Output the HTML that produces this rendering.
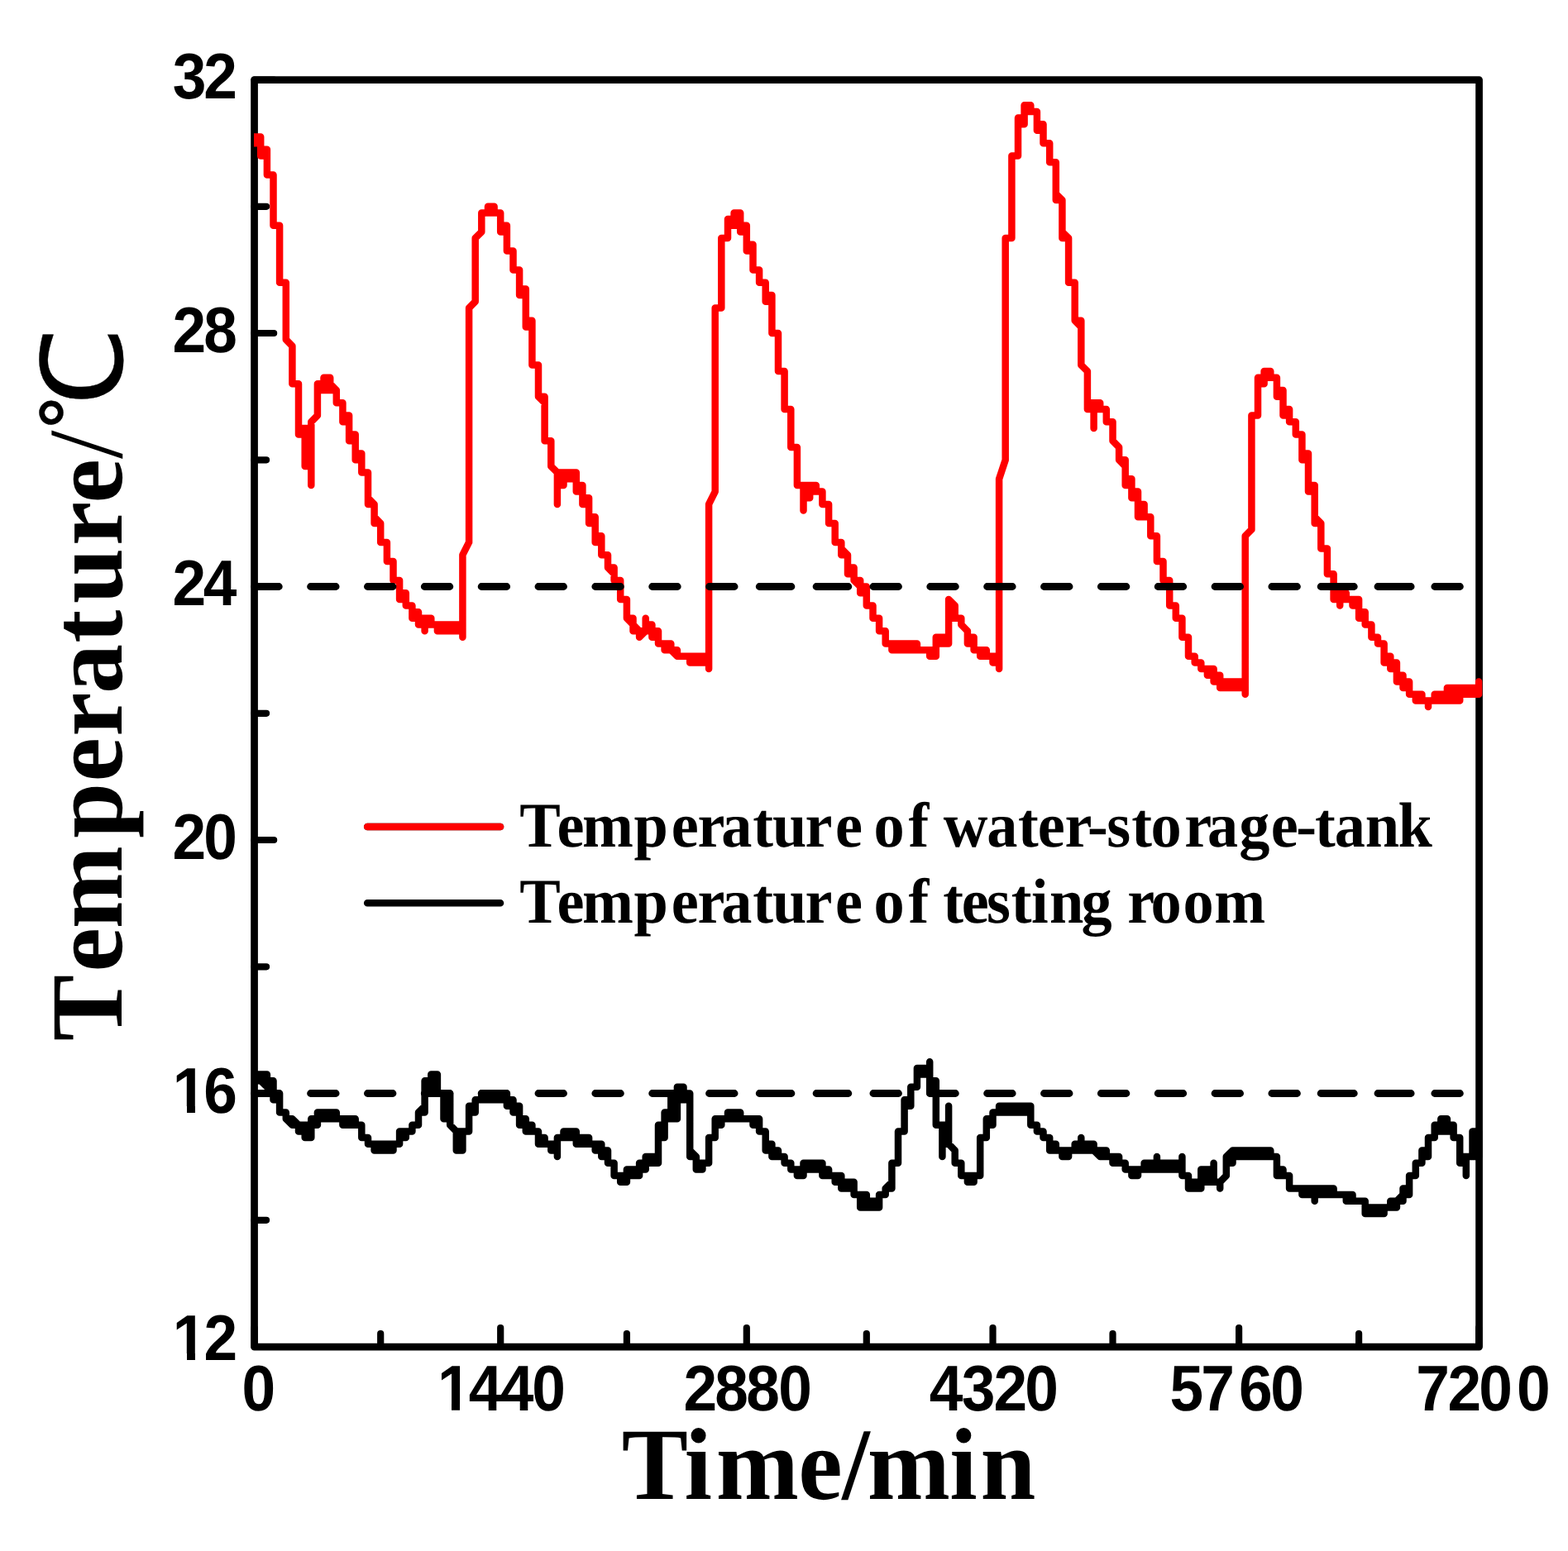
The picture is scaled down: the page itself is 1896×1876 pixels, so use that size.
<!DOCTYPE html>
<html lang="en"><head><meta charset="utf-8"><title>Temperature of water-storage-tank and testing room</title>
<style>html,body{margin:0;padding:0;background:#fff;}body{width:1896px;height:1876px;overflow:hidden;}svg{display:block;}text{text-rendering:geometricPrecision;}.tk{font-family:"Liberation Sans",sans-serif;font-weight:bold;font-size:78px;fill:#000;}.ser{font-family:"Liberation Serif",serif;font-weight:bold;fill:#000;}.deg{font-family:"WenQuanYi Zen Hei","DejaVu Serif","Noto Serif CJK SC",serif;font-weight:normal;fill:#000;}</style></head><body>
<svg width="1896" height="1876" viewBox="0 0 1896 1876">
<defs><clipPath id="plot"><rect x="307" y="92.2" width="1485.8" height="1541.2"/></clipPath>
<clipPath id="c4"><rect x="212.9" y="-70" width="700" height="62"/><rect x="241.2" y="-9" width="10.7" height="9"/><rect x="265.4" y="-9" width="700" height="30"/></clipPath>
<clipPath id="c5"><rect x="212.9" y="-70" width="700" height="62"/><rect x="241.2" y="-9" width="10.7" height="9"/><rect x="265.4" y="-9" width="700" height="30"/></clipPath>
<clipPath id="c7"><rect x="554.5" y="-70" width="700" height="62"/><rect x="582.7" y="-9" width="10.7" height="9"/><rect x="606.9" y="-9" width="700" height="30"/></clipPath>
</defs>
<rect x="0" y="0" width="1896" height="1876" fill="#fff"/>
<rect x="307.55" y="96.55" width="1481" height="1532.5" fill="none" stroke="#000" stroke-width="8.7" stroke-linejoin="round"/>
<path d="M307.55,1629h23.6M307.55,1475.8h14.5M307.55,1322.5h23.6M307.55,1169.3h14.5M307.55,1016h23.6M307.55,862.8h14.5M307.55,709.5h23.6M307.55,556.3h14.5M307.55,403h23.6M307.55,249.8h14.5M307.55,96.5h23.6M307.6,1629.0v-23.0M460.2,1629.0v-16.0M605.2,1629.0v-23.0M757.9,1629.0v-16.0M902.8,1629.0v-23.0M1047.8,1629.0v-16.0M1200.5,1629.0v-23.0M1345.5,1629.0v-16.0M1498.1,1629.0v-23.0M1643.1,1629.0v-16.0M1788.1,1629.0v-23.0" fill="none" stroke="#000" stroke-width="8.2" stroke-linecap="round"/>
<g clip-path="url(#plot)" fill="none" stroke-linejoin="round" stroke-linecap="round">
<path d="M307.6,1299.5V1307.2M307.6,1299.5H315.2M307.6,1307.2H315.2M315.2,1299.5V1307.2M315.2,1299.5H322.9M315.2,1307.2H322.9M322.9,1299.5V1314.8M322.9,1307.2H330.5M322.9,1314.8H330.5M330.5,1307.2V1330.2M330.5,1322.5H338.1M330.5,1330.2H338.1M338.1,1322.5V1345.5M338.1,1345.5H345.8M345.8,1345.5V1353.2M345.8,1353.2H353.4M353.4,1353.2V1360.8M353.4,1360.8H361M361,1360.8V1368.5M361,1360.8H368.7M361,1368.5H368.7M368.7,1360.8V1376.1M368.7,1360.8H376.3M368.7,1376.1H376.3M376.3,1353.2V1376.1M376.3,1353.2H383.9M376.3,1360.8H383.9M383.9,1345.5V1360.8M383.9,1345.5H391.5M383.9,1353.2H391.5M391.5,1345.5V1353.2M391.5,1345.5H399.2M391.5,1353.2H399.2M399.2,1345.5V1353.2M399.2,1345.5H406.8M399.2,1353.2H406.8M406.8,1345.5V1353.2M406.8,1353.2H414.4M414.4,1353.2V1360.8M414.4,1353.2H422.1M414.4,1360.8H422.1M422.1,1353.2V1360.8M422.1,1353.2H429.7M422.1,1360.8H429.7M429.7,1353.2V1360.8M429.7,1360.8H437.3M437.3,1360.8V1376.1M437.3,1376.1H445M445,1376.1V1383.8M445,1383.8H452.6M452.6,1383.8V1391.5M452.6,1383.8H460.2M452.6,1391.5H460.2M460.2,1383.8V1391.5M460.2,1383.8H467.9M460.2,1391.5H467.9M467.9,1383.8V1391.5M467.9,1383.8H475.5M467.9,1391.5H475.5M475.5,1383.8V1391.5M475.5,1383.8H483.1M483.1,1368.5V1383.8M483.1,1368.5H490.8M483.1,1376.1H490.8M490.8,1368.5V1376.1M490.8,1368.5H498.4M498.4,1360.8V1368.5M498.4,1360.8H506M506,1345.5V1360.8M506,1345.5H513.6M513.6,1307.2V1345.5M513.6,1307.2H521.3M513.6,1322.5H521.3M521.3,1299.5V1322.5M521.3,1299.5H528.9M521.3,1322.5H528.9M528.9,1299.5V1322.5M528.9,1322.5H536.5M536.5,1322.5V1353.2M536.5,1322.5H544.2M536.5,1353.2H544.2M544.2,1322.5V1360.8M544.2,1360.8L551.8,1368.5M551.8,1368.5V1391.5M551.8,1368.5H559.4M551.8,1391.5H559.4M559.4,1368.5V1391.5M559.4,1368.5H567.1M567.1,1337.8V1368.5M567.1,1337.8H574.7M567.1,1345.5H574.7M574.7,1330.2V1345.5M574.7,1330.2H582.3M582.3,1322.5V1330.2M582.3,1322.5H590M582.3,1330.2H590M590,1322.5V1330.2M590,1322.5H597.6M590,1330.2H597.6M597.6,1322.5V1330.2M597.6,1322.5H605.2M597.6,1330.2H605.2M605.2,1322.5V1330.2M605.2,1322.5H612.9M605.2,1330.2H612.9M612.9,1322.5V1337.8M612.9,1330.2H620.5M612.9,1337.8H620.5M620.5,1330.2V1345.5M620.5,1337.8H628.1M620.5,1345.5H628.1M628.1,1337.8V1360.8M628.1,1353.2H635.8M628.1,1360.8H635.8M635.8,1353.2V1368.5M635.8,1360.8H643.4M635.8,1368.5H643.4M643.4,1360.8V1368.5M643.4,1368.5H651M651,1368.5V1383.8M651,1376.1H658.6M651,1383.8H658.6M658.6,1376.1V1383.8M658.6,1383.8H666.3M666.3,1383.8V1391.5M666.3,1383.8H673.9M666.3,1391.5H673.9M673.9,1376.1V1399.1M673.9,1376.1H681.5M681.5,1368.5V1376.1M681.5,1368.5H689.2M681.5,1376.1H689.2M689.2,1368.5V1376.1M689.2,1368.5H696.8M689.2,1376.1H696.8M696.8,1368.5V1383.8M696.8,1376.1H704.4M696.8,1383.8H704.4M704.4,1376.1V1383.8M704.4,1376.1H712.1M704.4,1383.8H712.1M712.1,1376.1V1383.8M712.1,1383.8H719.7M719.7,1383.8V1391.5M719.7,1383.8H727.3M719.7,1391.5H727.3M727.3,1383.8V1399.1M727.3,1391.5H735M727.3,1399.1H735M735,1391.5V1406.8M735,1406.8H742.6M742.6,1406.8V1422.1M742.6,1422.1H750.2M750.2,1422.1V1429.8M750.2,1422.1H757.9M750.2,1429.8H757.9M757.9,1414.5V1429.8M757.9,1414.5H765.5M757.9,1422.1H765.5M765.5,1414.5V1422.1M765.5,1414.5H773.1M765.5,1422.1H773.1M773.1,1406.8V1422.1M773.1,1406.8H780.7M773.1,1414.5H780.7M780.7,1399.1V1414.5M780.7,1399.1H788.4M780.7,1406.8H788.4M788.4,1399.1V1406.8M788.4,1399.1H796M788.4,1406.8H796M796,1360.8V1406.8M796,1360.8H803.6M796,1376.1H803.6M803.6,1345.5V1376.1M803.6,1345.5H811.3M803.6,1353.2H811.3M811.3,1322.5V1353.2M811.3,1322.5H818.9M811.3,1353.2H818.9M818.9,1314.8V1353.2M818.9,1314.8H826.5M818.9,1330.2H826.5M826.5,1314.8V1330.2M826.5,1322.5H834.2M826.5,1330.2H834.2M834.2,1322.5V1399.1M834.2,1399.1H841.8M841.8,1399.1V1414.5M841.8,1406.8H849.4M841.8,1414.5H849.4M849.4,1406.8V1414.5M849.4,1406.8H857.1M857.1,1376.1V1406.8M857.1,1376.1H864.7M864.7,1353.2V1376.1M864.7,1353.2H872.3M864.7,1360.8H872.3M872.3,1353.2V1360.8M872.3,1353.2H880M880,1345.5V1353.2M880,1345.5H887.6M880,1353.2H887.6M887.6,1345.5V1353.2M887.6,1345.5H895.2M887.6,1353.2H895.2M895.2,1345.5V1353.2M895.2,1353.2H902.8M902.8,1353.2V1353.2M902.8,1353.2H910.5M910.5,1353.2V1360.8M910.5,1353.2H918.1M910.5,1360.8H918.1M918.1,1353.2V1368.5M918.1,1368.5H925.7M925.7,1368.5V1391.5M925.7,1383.8H933.4M925.7,1391.5H933.4M933.4,1383.8V1399.1M933.4,1391.5H941M933.4,1399.1H941M941,1391.5V1399.1M941,1399.1H948.6M948.6,1399.1V1406.8M948.6,1406.8H956.3M956.3,1406.8V1414.5M956.3,1414.5H963.9M963.9,1414.5V1422.1M963.9,1414.5H971.5M963.9,1422.1H971.5M971.5,1406.8V1422.1M971.5,1406.8H979.2M971.5,1414.5H979.2M979.2,1406.8V1414.5M979.2,1406.8H986.8M979.2,1414.5H986.8M986.8,1406.8V1414.5M986.8,1406.8H994.4M986.8,1414.5H994.4M994.4,1406.8V1422.1M994.4,1414.5H1002.1M994.4,1422.1H1002.1M1002.1,1414.5V1422.1M1002.1,1422.1H1009.7M1009.7,1422.1V1429.8M1009.7,1422.1H1017.3M1009.7,1429.8H1017.3M1017.3,1422.1V1437.4M1017.3,1429.8H1025M1017.3,1437.4H1025M1025,1429.8V1437.4M1025,1429.8H1032.6M1025,1437.4H1032.6M1032.6,1429.8V1445.1M1032.6,1445.1H1040.2M1040.2,1445.1V1460.4M1040.2,1445.1H1047.8M1040.2,1460.4H1047.8M1047.8,1445.1V1460.4M1047.8,1452.8H1055.5M1047.8,1460.4H1055.5M1055.5,1452.8V1460.4M1055.5,1452.8H1063.1M1055.5,1460.4H1063.1M1063.1,1445.1V1460.4M1063.1,1445.1H1070.7M1070.7,1437.4V1445.1M1070.7,1437.4H1078.4M1078.4,1406.8V1437.4M1078.4,1406.8H1086M1086,1368.5V1406.8M1086,1368.5H1093.6M1093.6,1330.2V1368.5M1093.6,1330.2H1101.3M1093.6,1337.8H1101.3M1101.3,1314.8V1337.8M1101.3,1314.8H1108.9M1108.9,1291.9V1314.8M1108.9,1291.9H1116.5M1108.9,1299.5H1116.5M1116.5,1291.9V1299.5M1116.5,1291.9H1124.2M1116.5,1299.5H1124.2M1124.2,1284.2V1322.5M1124.2,1307.2H1131.8M1124.2,1322.5H1131.8M1131.8,1307.2V1360.8M1131.8,1360.8H1139.4M1139.4,1360.8V1399.1M1139.4,1360.8H1147.1M1139.4,1383.8H1147.1M1147.1,1337.8V1383.8M1147.1,1383.8L1154.7,1391.5M1154.7,1391.5V1406.8M1154.7,1406.8H1162.3M1162.3,1406.8V1422.1M1162.3,1422.1H1169.9M1169.9,1422.1V1429.8M1169.9,1422.1H1177.6M1169.9,1429.8H1177.6M1177.6,1422.1V1429.8M1177.6,1422.1H1185.2M1185.2,1376.1V1422.1M1185.2,1376.1H1192.8M1192.8,1353.2V1376.1M1192.8,1353.2H1200.5M1192.8,1360.8H1200.5M1200.5,1345.5V1360.8M1200.5,1345.5H1208.1M1208.1,1337.8V1345.5M1208.1,1337.8H1215.7M1208.1,1345.5H1215.7M1215.7,1337.8V1345.5M1215.7,1337.8H1223.4M1215.7,1345.5H1223.4M1223.4,1337.8V1345.5M1223.4,1337.8H1231M1223.4,1345.5H1231M1231,1337.8V1345.5M1231,1337.8H1238.6M1231,1345.5H1238.6M1238.6,1337.8V1345.5M1238.6,1337.8H1246.3M1238.6,1345.5H1246.3M1246.3,1337.8V1360.8M1246.3,1360.8H1253.9M1253.9,1360.8V1368.5M1253.9,1368.5H1261.5M1261.5,1368.5V1376.1M1261.5,1376.1H1269.2M1269.2,1376.1V1391.5M1269.2,1383.8H1276.8M1269.2,1391.5H1276.8M1276.8,1383.8V1391.5M1276.8,1391.5H1284.4M1284.4,1391.5V1399.1M1284.4,1391.5H1292.1M1284.4,1399.1H1292.1M1292.1,1391.5V1399.1M1292.1,1391.5H1299.7M1299.7,1383.8V1391.5M1299.7,1383.8H1307.3M1299.7,1391.5H1307.3M1307.3,1376.1V1391.5M1307.3,1383.8H1314.9M1307.3,1391.5H1314.9M1314.9,1383.8V1391.5M1314.9,1383.8H1322.6M1314.9,1391.5H1322.6M1322.6,1383.8V1391.5M1322.6,1391.5H1330.2M1330.2,1391.5V1399.1M1330.2,1391.5H1337.8M1330.2,1399.1H1337.8M1337.8,1391.5V1399.1M1337.8,1399.1H1345.5M1345.5,1399.1V1406.8M1345.5,1399.1H1353.1M1345.5,1406.8H1353.1M1353.1,1399.1V1406.8M1353.1,1406.8H1360.7M1360.7,1406.8V1414.5M1360.7,1414.5H1368.4M1368.4,1414.5V1422.1M1368.4,1414.5H1376M1368.4,1422.1H1376M1376,1414.5V1422.1M1376,1414.5H1383.6M1383.6,1406.8V1414.5M1383.6,1406.8H1391.3M1383.6,1414.5H1391.3M1391.3,1406.8V1414.5M1391.3,1406.8H1398.9M1391.3,1414.5H1398.9M1398.9,1399.1V1414.5M1398.9,1406.8H1406.5M1398.9,1414.5H1406.5M1406.5,1406.8V1414.5M1406.5,1406.8H1414.2M1406.5,1414.5H1414.2M1414.2,1406.8V1414.5M1414.2,1406.8H1421.8M1414.2,1414.5H1421.8M1421.8,1406.8V1414.5M1421.8,1406.8H1429.4M1421.8,1414.5H1429.4M1429.4,1399.1V1422.1M1429.4,1422.1H1437M1437,1422.1V1437.4M1437,1429.8H1444.7M1437,1437.4H1444.7M1444.7,1429.8V1437.4M1444.7,1429.8H1452.3M1444.7,1437.4H1452.3M1452.3,1414.5V1437.4M1452.3,1414.5H1459.9M1452.3,1429.8H1459.9M1459.9,1414.5V1429.8M1459.9,1414.5H1467.6M1459.9,1429.8H1467.6M1467.6,1406.8V1429.8M1467.6,1429.8H1475.2M1475.2,1429.8V1437.4M1475.2,1429.8L1482.8,1422.1M1482.8,1399.1V1422.1M1482.8,1399.1H1490.5M1482.8,1406.8H1490.5M1490.5,1391.5V1406.8M1490.5,1391.5H1498.1M1490.5,1399.1H1498.1M1498.1,1391.5V1399.1M1498.1,1391.5H1505.7M1498.1,1399.1H1505.7M1505.7,1391.5V1399.1M1505.7,1391.5H1513.4M1505.7,1399.1H1513.4M1513.4,1391.5V1399.1M1513.4,1391.5H1521M1513.4,1399.1H1521M1521,1391.5V1399.1M1521,1391.5H1528.6M1521,1399.1H1528.6M1528.6,1391.5V1399.1M1528.6,1391.5H1536.3M1528.6,1399.1H1536.3M1536.3,1391.5V1399.1M1536.3,1399.1H1543.9M1543.9,1399.1V1422.1M1543.9,1414.5H1551.5M1543.9,1422.1H1551.5M1551.5,1414.5V1422.1M1551.5,1422.1H1559.1M1559.1,1422.1V1437.4M1559.1,1437.4H1566.8M1566.8,1437.4V1437.5M1566.8,1437.4H1574.4M1574.4,1437.4V1445.1M1574.4,1437.4H1582M1574.4,1445.1H1582M1582,1437.4V1445.1M1582,1437.4H1589.7M1582,1445.1H1589.7M1589.7,1437.4V1452.8M1589.7,1437.4H1597.3M1589.7,1445.1H1597.3M1597.3,1437.4V1445.1M1597.3,1437.4H1604.9M1597.3,1445.1H1604.9M1604.9,1437.4V1445.1M1604.9,1437.4H1612.6M1604.9,1445.1H1612.6M1612.6,1437.4V1445.1M1612.6,1445.1H1620.2M1620.2,1445.1V1445.1M1620.2,1445.1H1627.8M1627.8,1445.1V1452.8M1627.8,1445.1H1635.5M1627.8,1452.8H1635.5M1635.5,1445.1V1452.8M1635.5,1452.8H1643.1M1643.1,1452.8V1452.8M1643.1,1452.8H1650.7M1650.7,1452.8V1468.1M1650.7,1460.4H1658.4M1650.7,1468.1H1658.4M1658.4,1460.4V1468.1M1658.4,1460.4H1666M1658.4,1468.1H1666M1666,1460.4V1468.1M1666,1460.4H1673.6M1666,1468.1H1673.6M1673.6,1460.4V1468.1M1673.6,1460.4H1681.3M1681.3,1452.8V1460.4M1681.3,1452.8H1688.9M1681.3,1460.4H1688.9M1688.9,1452.8V1460.4M1688.9,1452.8H1696.5M1696.5,1437.4V1452.8M1696.5,1437.4H1704.1M1696.5,1445.1H1704.1M1704.1,1422.1V1445.1M1704.1,1422.1H1711.8M1711.8,1406.8V1422.1M1711.8,1406.8H1719.4M1719.4,1391.5V1406.8M1719.4,1391.5H1727M1719.4,1399.1H1727M1727,1376.1V1399.1M1727,1376.1H1734.7M1734.7,1360.8V1376.1M1734.7,1360.8H1742.3M1734.7,1368.5H1742.3M1742.3,1353.2V1368.5M1742.3,1353.2H1749.9M1742.3,1368.5H1749.9M1749.9,1353.2V1368.5M1749.9,1360.8H1757.6M1749.9,1368.5H1757.6M1757.6,1360.8V1376.1M1757.6,1376.1H1765.2M1765.2,1376.1V1406.8M1765.2,1399.1H1772.8M1765.2,1406.8H1772.8M1772.8,1399.1V1422.1M1772.8,1399.1H1780.5M1780.5,1368.5V1399.1M1780.5,1368.5H1788.1M1780.5,1399.1H1788.1M1788.1,1368.5V1399.1M315.2,1307.2L322.9,1314.8M322.9,1314.8L330.5,1322.5M345.8,1353.2L353.4,1360.8M353.4,1353.2L361,1360.8M506,1345.5L513.6,1337.8M834.2,1391.5L841.8,1399.1M1070.7,1437.4L1078.4,1429.8M1322.6,1391.5L1330.2,1399.1M1482.8,1399.1L1490.5,1391.5M1688.9,1452.8L1696.5,1445.1" stroke="#000" stroke-width="8.5"/>
<path d="M307.6,165.5V173.2M307.6,165.5H315.2M307.6,173.2H315.2M315.2,165.5V188.5M315.2,180.8H322.9M315.2,188.5H322.9M322.9,180.8V211.5M322.9,211.5H330.5M330.5,211.5V272.8M330.5,272.8H338.1M338.1,272.8V341.7M338.1,341.7H345.8M345.8,341.7V410.7M345.8,410.7L353.4,418.4M353.4,418.4V464.3M353.4,464.3H361M361,464.3V525.6M361,518H368.7M361,525.6H368.7M368.7,518V563.9M368.7,518H376.3M368.7,563.9H376.3M376.3,510.3V586.9M376.3,510.3L383.9,502.6M383.9,464.3V502.6M383.9,464.3H391.5M383.9,472H391.5M391.5,456.7V472M391.5,456.7H399.2M391.5,472H399.2M399.2,456.7V472M399.2,472H406.8M406.8,472V487.3M406.8,487.3H414.4M414.4,487.3V510.3M414.4,502.6H422.1M414.4,510.3H422.1M422.1,502.6V533.3M422.1,525.6H429.7M422.1,533.3H429.7M429.7,525.6V556.3M429.7,548.6H437.3M429.7,556.3H437.3M437.3,548.6V571.6M437.3,571.6H445M445,571.6V609.9M445,609.9H452.6M452.6,609.9V632.9M452.6,632.9H460.2M460.2,632.9V655.9M460.2,655.9H467.9M467.9,655.9V678.9M467.9,678.9H475.5M475.5,678.9V701.9M475.5,701.9H483.1M483.1,701.9V724.9M483.1,717.2H490.8M483.1,724.9H490.8M490.8,717.2V732.5M490.8,732.5H498.4M498.4,732.5V747.8M498.4,740.2H506M498.4,747.8H506M506,740.2V755.5M506,747.8H513.6M506,755.5H513.6M513.6,747.8V763.2M513.6,747.8H521.3M513.6,755.5H521.3M521.3,747.8V755.5M521.3,755.5H528.9M528.9,755.5V763.2M528.9,755.5H536.5M528.9,763.2H536.5M536.5,755.5V763.2M536.5,755.5H544.2M536.5,763.2H544.2M544.2,755.5V763.2M544.2,755.5H551.8M544.2,763.2H551.8M551.8,755.5V763.2M551.8,755.5H559.4M551.8,763.2H559.4M559.4,671.2V770.8M559.4,671.2L567.1,655.9M567.1,372.4V655.9M567.1,372.4L574.7,364.7M574.7,288.1V364.7M574.7,288.1L582.3,280.4M582.3,257.5V280.4M582.3,257.5H590M590,249.8V257.5M590,249.8H597.6M590,257.5H597.6M597.6,249.8V257.5M597.6,257.5H605.2M605.2,257.5V280.4M605.2,272.8H612.9M605.2,280.4H612.9M612.9,272.8V303.4M612.9,303.4H620.5M620.5,303.4V326.4M620.5,326.4H628.1M628.1,326.4V357.1M628.1,349.4H635.8M628.1,357.1H635.8M635.8,349.4V395.4M635.8,387.7H643.4M635.8,395.4H643.4M643.4,387.7V441.4M643.4,441.4H651M651,441.4V479.7M651,479.7H658.6M658.6,479.7V533.3M658.6,533.3H666.3M666.3,533.3V563.9M666.3,563.9L673.9,571.6M673.9,571.6V609.9M673.9,571.6H681.5M673.9,586.9H681.5M681.5,571.6V586.9M681.5,571.6H689.2M681.5,579.3H689.2M689.2,571.6V579.3M689.2,571.6H696.8M689.2,579.3H696.8M696.8,571.6V594.6M696.8,586.9H704.4M696.8,594.6H704.4M704.4,586.9V609.9M704.4,602.3H712.1M704.4,609.9H712.1M712.1,602.3V632.9M712.1,625.2H719.7M712.1,632.9H719.7M719.7,625.2V655.9M719.7,648.2H727.3M719.7,655.9H727.3M727.3,648.2V671.2M727.3,671.2H735M735,671.2V686.5M735,686.5H742.6M742.6,686.5V701.9M742.6,701.9H750.2M750.2,701.9V724.9M750.2,724.9H757.9M757.9,724.9V747.8M757.9,747.8H765.5M765.5,747.8V763.2M765.5,763.2H773.1M773.1,763.2V770.8M773.1,763.2H780.7M780.7,747.8V763.2M780.7,755.5H788.4M780.7,763.2H788.4M788.4,755.5V770.8M788.4,763.2H796M788.4,770.8H796M796,763.2V778.5M796,778.5H803.6M803.6,778.5V786.2M803.6,778.5H811.3M803.6,786.2H811.3M811.3,778.5V786.2M811.3,786.2H818.9M818.9,786.2V793.8M818.9,793.8H826.5M826.5,793.8V793.8M826.5,793.8H834.2M834.2,793.8V801.5M834.2,793.8H841.8M834.2,801.5H841.8M841.8,793.8V801.5M841.8,793.8H849.4M841.8,801.5H849.4M849.4,793.8V801.5M849.4,793.8H857.1M849.4,801.5H857.1M857.1,609.9V809.1M857.1,609.9L864.7,594.6M864.7,372.4V594.6M864.7,372.4H872.3M872.3,288.1V372.4M872.3,288.1H880M880,265.1V288.1M880,265.1H887.6M880,272.8H887.6M887.6,257.5V272.8M887.6,257.5H895.2M887.6,272.8H895.2M895.2,257.5V280.4M895.2,272.8H902.8M895.2,280.4H902.8M902.8,272.8V303.4M902.8,295.8H910.5M902.8,303.4H910.5M910.5,295.8V326.4M910.5,326.4H918.1M918.1,326.4V341.7M918.1,341.7H925.7M925.7,341.7V364.7M925.7,357.1H933.4M925.7,364.7H933.4M933.4,357.1V403M933.4,403H941M941,403V449M941,449H948.6M948.6,449V495M948.6,495H956.3M956.3,495V541M956.3,541H963.9M963.9,541V586.9M963.9,586.9H971.5M971.5,586.9V617.6M971.5,586.9H979.2M971.5,602.3H979.2M979.2,586.9V602.3M979.2,586.9H986.8M979.2,594.6H986.8M986.8,586.9V594.6M986.8,594.6H994.4M994.4,594.6V609.9M994.4,609.9H1002.1M1002.1,609.9V632.9M1002.1,632.9H1009.7M1009.7,632.9V655.9M1009.7,655.9H1017.3M1017.3,655.9V671.2M1017.3,671.2H1025M1025,671.2V694.2M1025,686.5H1032.6M1025,694.2H1032.6M1032.6,686.5V701.9M1032.6,701.9H1040.2M1040.2,701.9V717.2M1040.2,709.5H1047.8M1040.2,717.2H1047.8M1047.8,709.5V732.5M1047.8,732.5H1055.5M1055.5,732.5V747.8M1055.5,747.8H1063.1M1063.1,747.8V763.2M1063.1,763.2H1070.7M1070.7,763.2V778.5M1070.7,778.5H1078.4M1078.4,778.5V786.2M1078.4,778.5H1086M1078.4,786.2H1086M1086,778.5V786.2M1086,778.5H1093.6M1086,786.2H1093.6M1093.6,778.5V786.2M1093.6,778.5H1101.3M1093.6,786.2H1101.3M1101.3,778.5V786.2M1101.3,778.5H1108.9M1101.3,786.2H1108.9M1108.9,778.5V786.2M1108.9,786.2H1116.5M1116.5,786.2V786.2M1116.5,786.2H1124.2M1124.2,786.2V793.8M1124.2,786.2H1131.8M1124.2,793.8H1131.8M1131.8,770.8V793.8M1131.8,770.8H1139.4M1131.8,778.5H1139.4M1139.4,770.8V778.5M1139.4,770.8H1147.1M1139.4,778.5H1147.1M1147.1,724.9V778.5M1147.1,732.5H1154.7M1147.1,747.8H1154.7M1154.7,732.5V747.8M1154.7,747.8H1162.3M1162.3,747.8V755.5M1162.3,755.5L1169.9,763.2M1169.9,763.2V778.5M1169.9,770.8H1177.6M1169.9,778.5H1177.6M1177.6,770.8V786.2M1177.6,786.2H1185.2M1185.2,786.2V793.8M1185.2,786.2H1192.8M1185.2,793.8H1192.8M1192.8,786.2V793.8M1192.8,793.8H1200.5M1200.5,793.8V801.5M1200.5,793.8H1208.1M1200.5,801.5H1208.1M1208.1,579.3V809.1M1208.1,579.3L1215.7,556.3M1215.7,288.1V556.3M1215.7,288.1H1223.4M1223.4,188.5V288.1M1223.4,188.5H1231M1231,142.5V188.5M1231,142.5H1238.6M1231,150.2H1238.6M1238.6,127.2V150.2M1238.6,127.2H1246.3M1238.6,134.9H1246.3M1246.3,127.2V134.9M1246.3,134.9H1253.9M1253.9,134.9V157.8M1253.9,150.2H1261.5M1253.9,157.8H1261.5M1261.5,150.2V173.2M1261.5,173.2H1269.2M1269.2,173.2V196.2M1269.2,196.2H1276.8M1276.8,196.2V242.1M1276.8,242.1H1284.4M1284.4,242.1V288.1M1284.4,288.1H1292.1M1292.1,288.1V341.7M1292.1,341.7H1299.7M1299.7,341.7V387.7M1299.7,387.7H1307.3M1307.3,387.7V441.4M1307.3,441.4L1314.9,449M1314.9,449V495M1314.9,487.3H1322.6M1314.9,495H1322.6M1322.6,487.3V518M1322.6,487.3H1330.2M1322.6,495H1330.2M1330.2,487.3V495M1330.2,495H1337.8M1337.8,495V510.3M1337.8,510.3H1345.5M1345.5,510.3V533.3M1345.5,533.3L1353.1,541M1353.1,541V556.3M1353.1,556.3H1360.7M1360.7,556.3V586.9M1360.7,579.3H1368.4M1360.7,586.9H1368.4M1368.4,579.3V602.3M1368.4,594.6H1376M1368.4,602.3H1376M1376,594.6V625.2M1376,609.9H1383.6M1376,625.2H1383.6M1383.6,609.9V625.2M1383.6,625.2H1391.3M1391.3,625.2V648.2M1391.3,648.2H1398.9M1398.9,648.2V678.9M1398.9,678.9H1406.5M1406.5,678.9V701.9M1406.5,701.9H1414.2M1414.2,701.9V732.5M1414.2,732.5H1421.8M1421.8,732.5V747.8M1421.8,747.8H1429.4M1429.4,747.8V770.8M1429.4,770.8H1437M1437,770.8V793.8M1437,793.8H1444.7M1444.7,793.8V801.5M1444.7,801.5H1452.3M1452.3,801.5V809.1M1452.3,809.1H1459.9M1459.9,809.1V816.8M1459.9,809.1H1467.6M1459.9,816.8H1467.6M1467.6,809.1V824.5M1467.6,816.8H1475.2M1467.6,824.5H1475.2M1475.2,816.8V832.1M1475.2,824.5H1482.8M1475.2,832.1H1482.8M1482.8,824.5V832.1M1482.8,824.5H1490.5M1482.8,832.1H1490.5M1490.5,824.5V832.1M1490.5,824.5H1498.1M1490.5,832.1H1498.1M1498.1,824.5V832.1M1498.1,824.5H1505.7M1498.1,832.1H1505.7M1505.7,648.2V839.8M1505.7,648.2L1513.4,640.6M1513.4,502.6V640.6M1513.4,502.6H1521M1521,456.7V502.6M1521,456.7H1528.6M1521,464.3H1528.6M1528.6,449V464.3M1528.6,449H1536.3M1528.6,456.7H1536.3M1536.3,449V456.7M1536.3,456.7H1543.9M1543.9,456.7V479.7M1543.9,472H1551.5M1543.9,479.7H1551.5M1551.5,472V502.6M1551.5,495H1559.1M1551.5,502.6H1559.1M1559.1,495V510.3M1559.1,510.3H1566.8M1566.8,510.3V525.6M1566.8,525.6H1574.4M1574.4,525.6V556.3M1574.4,548.6H1582M1574.4,556.3H1582M1582,548.6V594.6M1582,586.9H1589.7M1582,594.6H1589.7M1589.7,586.9V632.9M1589.7,632.9H1597.3M1597.3,632.9V663.6M1597.3,663.6H1604.9M1604.9,663.6V694.2M1604.9,694.2H1612.6M1612.6,694.2V724.9M1612.6,717.2H1620.2M1612.6,724.9H1620.2M1620.2,717.2V732.5M1620.2,717.2H1627.8M1620.2,724.9H1627.8M1627.8,717.2V724.9M1627.8,724.9H1635.5M1635.5,724.9V732.5M1635.5,724.9H1643.1M1635.5,732.5H1643.1M1643.1,724.9V747.8M1643.1,740.2H1650.7M1643.1,747.8H1650.7M1650.7,740.2V755.5M1650.7,755.5H1658.4M1658.4,755.5V770.8M1658.4,770.8H1666M1666,770.8V778.5M1666,778.5H1673.6M1673.6,778.5V801.5M1673.6,793.8H1681.3M1673.6,801.5H1681.3M1681.3,793.8V809.1M1681.3,801.5H1688.9M1681.3,809.1H1688.9M1688.9,801.5V824.5M1688.9,816.8H1696.5M1688.9,824.5H1696.5M1696.5,816.8V832.1M1696.5,824.5H1704.1M1696.5,832.1H1704.1M1704.1,824.5V839.8M1704.1,839.8H1711.8M1711.8,839.8V847.5M1711.8,839.8H1719.4M1711.8,847.5H1719.4M1719.4,839.8V847.5M1719.4,847.5H1727M1727,847.5V855.1M1727,847.5H1734.7M1734.7,839.8V847.5M1734.7,839.8H1742.3M1734.7,847.5H1742.3M1742.3,839.8V847.5M1742.3,839.8H1749.9M1742.3,847.5H1749.9M1749.9,832.1V847.5M1749.9,832.1H1757.6M1749.9,847.5H1757.6M1757.6,832.1V847.5M1757.6,832.1H1765.2M1757.6,847.5H1765.2M1765.2,832.1V847.5M1765.2,832.1H1772.8M1765.2,839.8H1772.8M1772.8,832.1V839.8M1772.8,832.1H1780.5M1772.8,839.8H1780.5M1780.5,832.1V839.8M1780.5,832.1H1788.1M1780.5,839.8H1788.1M1788.1,824.5V839.8M399.2,464.3L406.8,472M651,479.7L658.6,487.3M445,602.3L452.6,609.9M452.6,625.2L460.2,632.9M735,686.5L742.6,694.2M757.9,747.8L765.5,755.5M811.3,786.2L818.9,793.8M1017.3,663.6L1025,671.2M1032.6,701.9L1040.2,709.5M1276.8,234.5L1284.4,242.1M1284.4,280.4L1292.1,288.1M1299.7,387.7L1307.3,395.4M1307.3,441.4L1314.9,449M1147.1,724.9L1154.7,732.5M1353.1,556.3L1360.7,563.9M1589.7,625.2L1597.3,632.9M765.5,755.5L773.1,763.2M773.1,770.8L780.7,763.2" stroke="#f00" stroke-width="8.5"/>
</g>
<path d="M308.0,709.5H1040.0" fill="none" stroke="#000" stroke-width="8.8" stroke-dasharray="30.6 38.25" stroke-dashoffset="1.3" stroke-linecap="round"/>
<path d="M918.2,709.5H1720.0" fill="none" stroke="#000" stroke-width="8.8" stroke-dasharray="30.6 38.25" stroke-dashoffset="0" stroke-linecap="round"/>
<path d="M1597.1,709.5H1788.0" fill="none" stroke="#000" stroke-width="8.8" stroke-dasharray="30.6 38.25" stroke-dashoffset="0" stroke-linecap="round"/>
<path d="M308.0,1322.5H1040.0" fill="none" stroke="#000" stroke-width="8.8" stroke-dasharray="30.6 38.25" stroke-dashoffset="1.3" stroke-linecap="round"/>
<path d="M918.2,1322.5H1720.0" fill="none" stroke="#000" stroke-width="8.8" stroke-dasharray="30.6 38.25" stroke-dashoffset="0" stroke-linecap="round"/>
<path d="M1597.1,1322.5H1788.0" fill="none" stroke="#000" stroke-width="8.8" stroke-dasharray="30.6 38.25" stroke-dashoffset="0" stroke-linecap="round"/>
<text class="tk" transform="translate(0 118.8) scale(0.937 1)" x="222.8 262.9" y="0">32</text>
<text class="tk" transform="translate(0 425.9) scale(0.937 1)" x="222.5 262.8" y="0">28</text>
<text class="tk" transform="translate(0 731.9) scale(0.937 1)" x="222.4 262.4" y="0">24</text>
<text class="tk" transform="translate(0 1038.8) scale(0.937 1)" x="222.4 262.7" y="0">20</text>
<g transform="translate(0 1345.9) scale(0.937 1)"><text class="tk" clip-path="url(#c4)" x="222.9 262.8" y="0">16</text></g>
<g transform="translate(0 1644.9) scale(0.937 1)"><text class="tk" clip-path="url(#c5)" x="222.9 263" y="0">12</text></g>
<text class="tk" transform="translate(0 1705.8) scale(0.937 1)" x="312.1" y="0">0</text>
<g transform="translate(0 1705.8) scale(0.937 1)"><text class="tk" clip-path="url(#c7)" x="564.5 604.8 645.3 686.4" y="0">1440</text></g>
<text class="tk" transform="translate(0 1705.8) scale(0.937 1)" x="882 922.3 962.9 1004.5" y="0">2880</text>
<text class="tk" transform="translate(0 1705.8) scale(0.937 1)" x="1199.4 1241 1282.2 1322.6" y="0">4320</text>
<text class="tk" transform="translate(0 1705.8) scale(0.937 1)" x="1509.6 1549.9 1598.7 1639.5" y="0">5760</text>
<text class="tk" transform="translate(0 1705.8) scale(0.937 1)" x="1827.4 1868.1 1908.4 1957.4" y="0">7200</text>
<text class="ser" font-size="124.0" transform="translate(0 1813) scale(0.97 1)" x="775.1 853 892.5 995.1 1049.8 1081.3 1183.7 1222.1" y="0">Time/min</text>
<text class="ser" font-size="124.0" transform="translate(146.65 1300.0) rotate(-90) scale(0.97 1)" x="42.1 128.3 182.2 295.1 365.5 421.8 475.3 538.4 587.7 659.8 712.8 768" y="0">Temperature<tspan font-weight="normal" font-size="128.4">/</tspan></text><text class="deg" font-size="100" transform="translate(146.65 520) rotate(-90) scale(1.33 1.344)" x="0" y="0" stroke="#000" stroke-width="0.3" stroke-linejoin="round">℃</text>
<path d="M444.2,1000H605M444.2,1092.3H605" fill="none" stroke="#000" stroke-width="8.6" stroke-linecap="round"/>
<path d="M444.2,1000H605" fill="none" stroke="#f00" stroke-width="8.6" stroke-linecap="round"/>
<text class="ser" font-size="77.0" xml:space="preserve" transform="translate(0 1024.4) scale(0.965 1)" x="651 698 729.6 794.3 841.1 874.2 904 943.2 967.8 1008.8 1046.6 1080.8 1094.9 1138.3 1164 1182 1236.5 1275.7 1300.3 1334.2 1362.7 1386.9 1417.8 1441.9 1484.3 1513 1552.7 1592.4 1624 1647.8 1672.3 1710.6 1751.7" y="0">Temperature of water-storage-tank</text>
<text class="ser" font-size="77.0" xml:space="preserve" transform="translate(0 1116.4) scale(0.965 1)" x="651 698 729.6 794.3 841.1 874.2 904 943.2 967.8 1008.8 1046.6 1080.8 1094.9 1138.3 1164 1181.5 1204.9 1236.4 1267.2 1292.2 1315.1 1354.9 1393.4 1412.7 1441.9 1482.4 1521.4" y="0">Temperature of testing room</text>
</svg></body></html>
